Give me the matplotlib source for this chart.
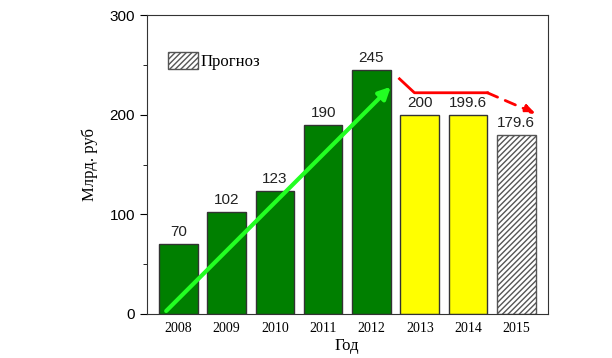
import matplotlib.pyplot as plt
from matplotlib.patches import Patch
from matplotlib.ticker import MultipleLocator

years = ["2008", "2009", "2010", "2011", "2012", "2013", "2014", "2015"]
values = [70, 102, 123, 190, 245, 200, 199.6, 179.6]
labels = ["70", "102", "123", "190", "245", "200", "199.6", "179.6"]
kinds = ["fact", "fact", "fact", "fact", "fact", "est", "est", "forecast"]

# trend lines (x in bar index units, y in data units)
growth_x = [-0.25, 4.4]
growth_y = [3, 228]
fall_x = [4.58, 4.89, 6.40]
fall_y = [236, 222, 222]
fall_dash_x = [6.40, 7.40]
fall_dash_y = [222, 201]

serif = "Liberation Serif"
sans = "Liberation Sans"

fig = plt.figure(figsize=(6.12, 3.58), dpi=100)
ax = fig.add_axes([0.240, 0.123, 0.655, 0.835])

x = list(range(len(years)))
for i in x:
    if kinds[i] == "fact":
        ax.bar(i, values[i], 0.8, color="#007f00", edgecolor="#333333", linewidth=1)
    elif kinds[i] == "est":
        ax.bar(i, values[i], 0.8, color="#ffff00", edgecolor="#333333", linewidth=1)
    else:
        ax.bar(i, values[i], 0.8, color="white", edgecolor="#555555", linewidth=1, hatch="//////")
    ax.text(i, values[i] + 5, labels[i], ha="center", va="bottom", fontsize=11,
            family=sans, color="#222222")

ax.annotate("", xy=(growth_x[1], growth_y[1]), xytext=(growth_x[0], growth_y[0]),
            arrowprops=dict(arrowstyle="-|>,head_length=0.7,head_width=0.35",
                            color="#22ff22", lw=3, shrinkA=0, shrinkB=0))

ax.plot(fall_x, fall_y, color="red", lw=2)
ax.annotate("", xy=(fall_dash_x[1], fall_dash_y[1]), xytext=(fall_dash_x[0], fall_dash_y[0]),
            arrowprops=dict(arrowstyle="-|>,head_length=0.6,head_width=0.25",
                            color="red", lw=2, linestyle=(0, (4, 3)), shrinkA=0, shrinkB=0))

ax.set_xlim(-0.65, 7.65)
ax.set_ylim(0, 300)
ax.set_xticks(x)
ax.set_xticklabels(years, family=serif, fontsize=10)
ax.yaxis.set_major_locator(MultipleLocator(100))
ax.yaxis.set_minor_locator(MultipleLocator(50))
ax.tick_params(axis="y", which="major", length=5, labelsize=11, direction="out")
ax.tick_params(axis="y", which="minor", length=3, direction="out")
ax.tick_params(axis="x", length=0, pad=6)
for lab in ax.get_yticklabels():
    lab.set_family(sans)
for s in ax.spines.values():
    s.set_color("#333333")

ax.set_xlabel("Год", family=serif, fontsize=12, labelpad=2)
ax.set_ylabel("Млрд. руб", family=serif, fontsize=12, labelpad=8)

handle = Patch(facecolor="white", edgecolor="#555555", hatch="//////")
ax.legend([handle], ["Прогноз"], loc="upper left", bbox_to_anchor=(0.035, 0.9),
          frameon=False, prop={"family": serif, "size": 12},
          handlelength=1.8, handleheight=1.2, handletextpad=0.15, borderaxespad=0)

fig.savefig("out.png", dpi=100)
